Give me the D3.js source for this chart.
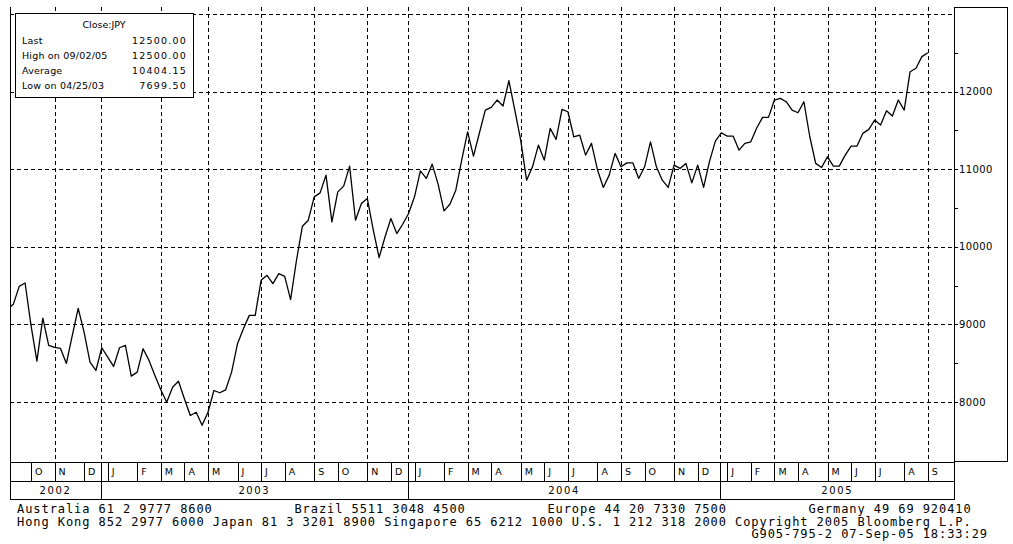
<!DOCTYPE html>
<html><head><meta charset="utf-8">
<script src="https://cdn.jsdelivr.net/npm/d3@7"></script>
<style>body{margin:0;background:#fff}svg{display:block}</style>
</head><body>
<svg id="c" width="1013" height="544"></svg>
<script>
// ---- DATA ----
const firstFriday = "2002-09-06";   // weekly closes (Fridays)
const lastFriday  = "2005-09-02";
const closes = [
 9194,9258,9490,9533,8987,8526,9081,8729,8703,8690,
 8497,8858,9206,8901,8514,8406,8699,8578,8458,8699,
 8729,8333,8385,8686,8536,8342,8157,7997,8191,8268,
 8041,7826,7868,7699.5,7868,8148,8119,8157,8385,8751,
 8945,9116,9116,9568,9632,9525,9654,9619,9319,9826,
 10265,10342,10643,10694,10923,10320,10707,10781,11039,10342,
 10557,10622,10222,9861,10126,10364,10170,10290,10428,10643,
 10978,10880,11065,10806,10462,10548,10729,11116,11481,11168,
 11465,11761,11796,11890,11813,12139,11761,11374,10858,11030,
 11310,11116,11525,11383,11770,11739,11417,11439,11181,11332,
 10996,10764,10923,11203,11030,11081,11081,10880,11030,11352,
 11030,10858,10764,11052,11009,11074,10823,11052,10764,11100,
 11361,11468,11426,11426,11245,11332,11352,11529,11667,11667,
 11890,11912,11868,11761,11726,11868,11417,11074,11022,11159,
 11039,11039,11181,11297,11297,11461,11512,11632,11568,11752,
 11684,11890,11761,12255,12299,12449,12500
];
const yLabelTicks = [8000,9000,10000,11000,12000];
const yGridValues = [8000,9000,10000,11000,12000,13000];
const yMinorTicks = [8000,8500,9000,9500,10000,10500,11000,11500,12000,12500];
const monthLetters = ["J","F","M","A","M","J","J","A","S","O","N","D"];
const legendTitle = "Close:JPY";
const legendLabels = ["Last","High on 09/02/05","Average","Low on 04/25/03"];
const legendValues = ["12500.00","12500.00","10404.15","7699.50"];
const footerRows = [
  [[0,"Australia 61 2 9777 8600"],[34,"Brazil 5511 3048 4500"],[65,"Europe 44 20 7330 7500"],[97,"Germany 49 69 920410"]],
  [[0,"Hong Kong 852 2977 6000 Japan 81 3 3201 8900 Singapore 65 6212 1000 U.S. 1 212 318 2000 Copyright 2005 Bloomberg L.P."]],
  [[90,"G905-795-2 07-Sep-05 18:33:29"]]
];

// ---- LAYOUT ----
const L=10, R=954, T=7, B=462, MB=481, YB=499, PR=1007, PB=461;
const svg = d3.select("#c");
svg.append("rect").attr("width",1013).attr("height",544).attr("fill","#fff");

const parse = d3.timeParse("%Y-%m-%d");
const dates = d3.timeFriday.range(parse(firstFriday), d3.timeDay.offset(parse(lastFriday),1));
const x = d3.scaleLinear().domain([0, closes.length-1]).range([7.4, 927.8]);
const y = d3.scaleLinear().domain([8000,12000]).range([402,91.5]);

// month starts
const monthStarts = [];
dates.forEach((d,i)=>{ if(i===0 || d.getMonth()!==dates[i-1].getMonth()) monthStarts.push({i, m:d.getMonth(), yr:d.getFullYear()}); });
const yearX = mi => x(mi - 1.15);

const font = "DejaVu Sans, Verdana, sans-serif";
const g = svg.append("g").attr("shape-rendering","crispEdges");

// vertical gridlines (odd months)
const vGrid = monthStarts.filter(ms => ms.i>0 && ms.m%2===0).map(ms => ms.m===0 ? yearX(ms.i) : x(ms.i));
g.selectAll("line.vg").data(vGrid).join("line")
  .attr("x1",d=>Math.round(d)+0.5).attr("x2",d=>Math.round(d)+0.5)
  .attr("y1",T).attr("y2",B).attr("stroke","#000").attr("stroke-dasharray","4,3");
// horizontal gridlines
g.selectAll("line.hg").data(yGridValues).join("line")
  .attr("x1",L).attr("x2",R)
  .attr("y1",d=>Math.round(y(d))+0.5).attr("y2",d=>Math.round(y(d))+0.5)
  .attr("stroke","#000").attr("stroke-dasharray","4,3");

// price line
svg.append("clipPath").attr("id","pc").append("rect").attr("x",L).attr("y",T).attr("width",R-L).attr("height",B-T);
svg.append("path").datum(closes).attr("clip-path","url(#pc)")
  .attr("d", d3.line().x((d,i)=>x(i)).y(d=>y(d)))
  .attr("fill","none").attr("stroke","#000").attr("stroke-width",1.3).attr("stroke-linejoin","round");

// frame
const f = svg.append("g").attr("shape-rendering","crispEdges").attr("stroke","#000").attr("fill","none");
f.append("line").attr("x1",L+0.5).attr("x2",L+0.5).attr("y1",T).attr("y2",YB);
f.append("line").attr("x1",R+0.5).attr("x2",R+0.5).attr("y1",T).attr("y2",YB);
[B,MB,YB].forEach(v=>f.append("line").attr("x1",L).attr("x2",R+1).attr("y1",v+0.5).attr("y2",v+0.5));
f.append("rect").attr("x",R+0.5).attr("y",T+0.5).attr("width",PR-R).attr("height",PB-T);

// right axis ticks and labels
f.selectAll("line.rt").data(yMinorTicks).join("line")
  .attr("x1",R).attr("x2",R+4).attr("y1",d=>Math.round(y(d))+0.5).attr("y2",d=>Math.round(y(d))+0.5);
svg.selectAll("text.yl").data(yLabelTicks).join("text")
  .attr("x",R+5).attr("y",d=>y(d)).attr("dy","0.35em")
  .attr("font-family",font).attr("font-size",10).attr("letter-spacing",0.4).attr("fill","#000")
  .text(d=>d3.format("d")(d));

// month cells
monthStarts.forEach((ms,k)=>{
  const x0 = Math.max(L, x(ms.i));
  if(ms.i>0) f.append("line").attr("x1",Math.round(x0)+0.5).attr("x2",Math.round(x0)+0.5).attr("y1",B).attr("y2",MB);
  if(ms.m===0){ const yx=Math.round(yearX(ms.i))+0.5; f.append("line").attr("x1",yx).attr("x2",yx).attr("y1",B).attr("y2",YB); }
  if(ms.i>0) svg.append("text").attr("x",x0+4).attr("y",(B+MB)/2).attr("dy","0.36em")
    .attr("font-family",font).attr("font-size",9.5).attr("fill","#000").text(monthLetters[ms.m]);
});
// year cells
const yearBounds = [L, ...monthStarts.filter(ms=>ms.m===0 && ms.i>0).map(ms=>yearX(ms.i)), R];
const years = [monthStarts[0].yr, ...monthStarts.filter(ms=>ms.m===0 && ms.i>0).map(ms=>ms.yr)];
svg.selectAll("text.yr").data(years).join("text")
  .attr("x",(d,k)=>(yearBounds[k]+yearBounds[k+1])/2).attr("y",(MB+YB)/2).attr("dy","0.36em")
  .attr("text-anchor","middle").attr("font-family",font).attr("font-size",10).attr("letter-spacing",1.6)
  .attr("fill","#000").text(d=>d);

// legend box
svg.append("rect").attr("x",15.5).attr("y",13.5).attr("width",178).attr("height",84)
  .attr("fill","#fff").attr("stroke","#000").attr("shape-rendering","crispEdges");
svg.append("text").attr("x",104).attr("y",25).attr("dy","0.35em").attr("text-anchor","middle")
  .attr("font-family",font).attr("font-size",9.5).attr("fill","#000").text(legendTitle);
const rowY = d3.scaleLinear().domain([0,3]).range([40.5,85.5]);
svg.selectAll("text.ll").data(legendLabels).join("text")
  .attr("x",22).attr("y",(d,i)=>rowY(i)).attr("dy","0.35em")
  .attr("font-family",font).attr("font-size",9.5).attr("letter-spacing",0.2).attr("fill","#000").text(d=>d);
svg.selectAll("text.lv").data(legendValues).join("text")
  .attr("x",187).attr("y",(d,i)=>rowY(i)).attr("dy","0.35em").attr("text-anchor","end")
  .attr("font-family",font).attr("font-size",9.5).attr("letter-spacing",1.2).attr("fill","#000").text(d=>d);

// footer
const charW = 8.16, footY = [513, 525.5, 538];
footerRows.forEach((row,r)=>row.forEach(([col,txt])=>{
  svg.append("text").attr("x",17+col*charW).attr("y",footY[r])
    .attr("font-family","DejaVu Sans Mono, monospace").attr("font-size",12)
    .attr("textLength",txt.length*charW-1).attr("lengthAdjust","spacing")
    .attr("fill","#000").text(txt);
}));
</script>
</body></html>
